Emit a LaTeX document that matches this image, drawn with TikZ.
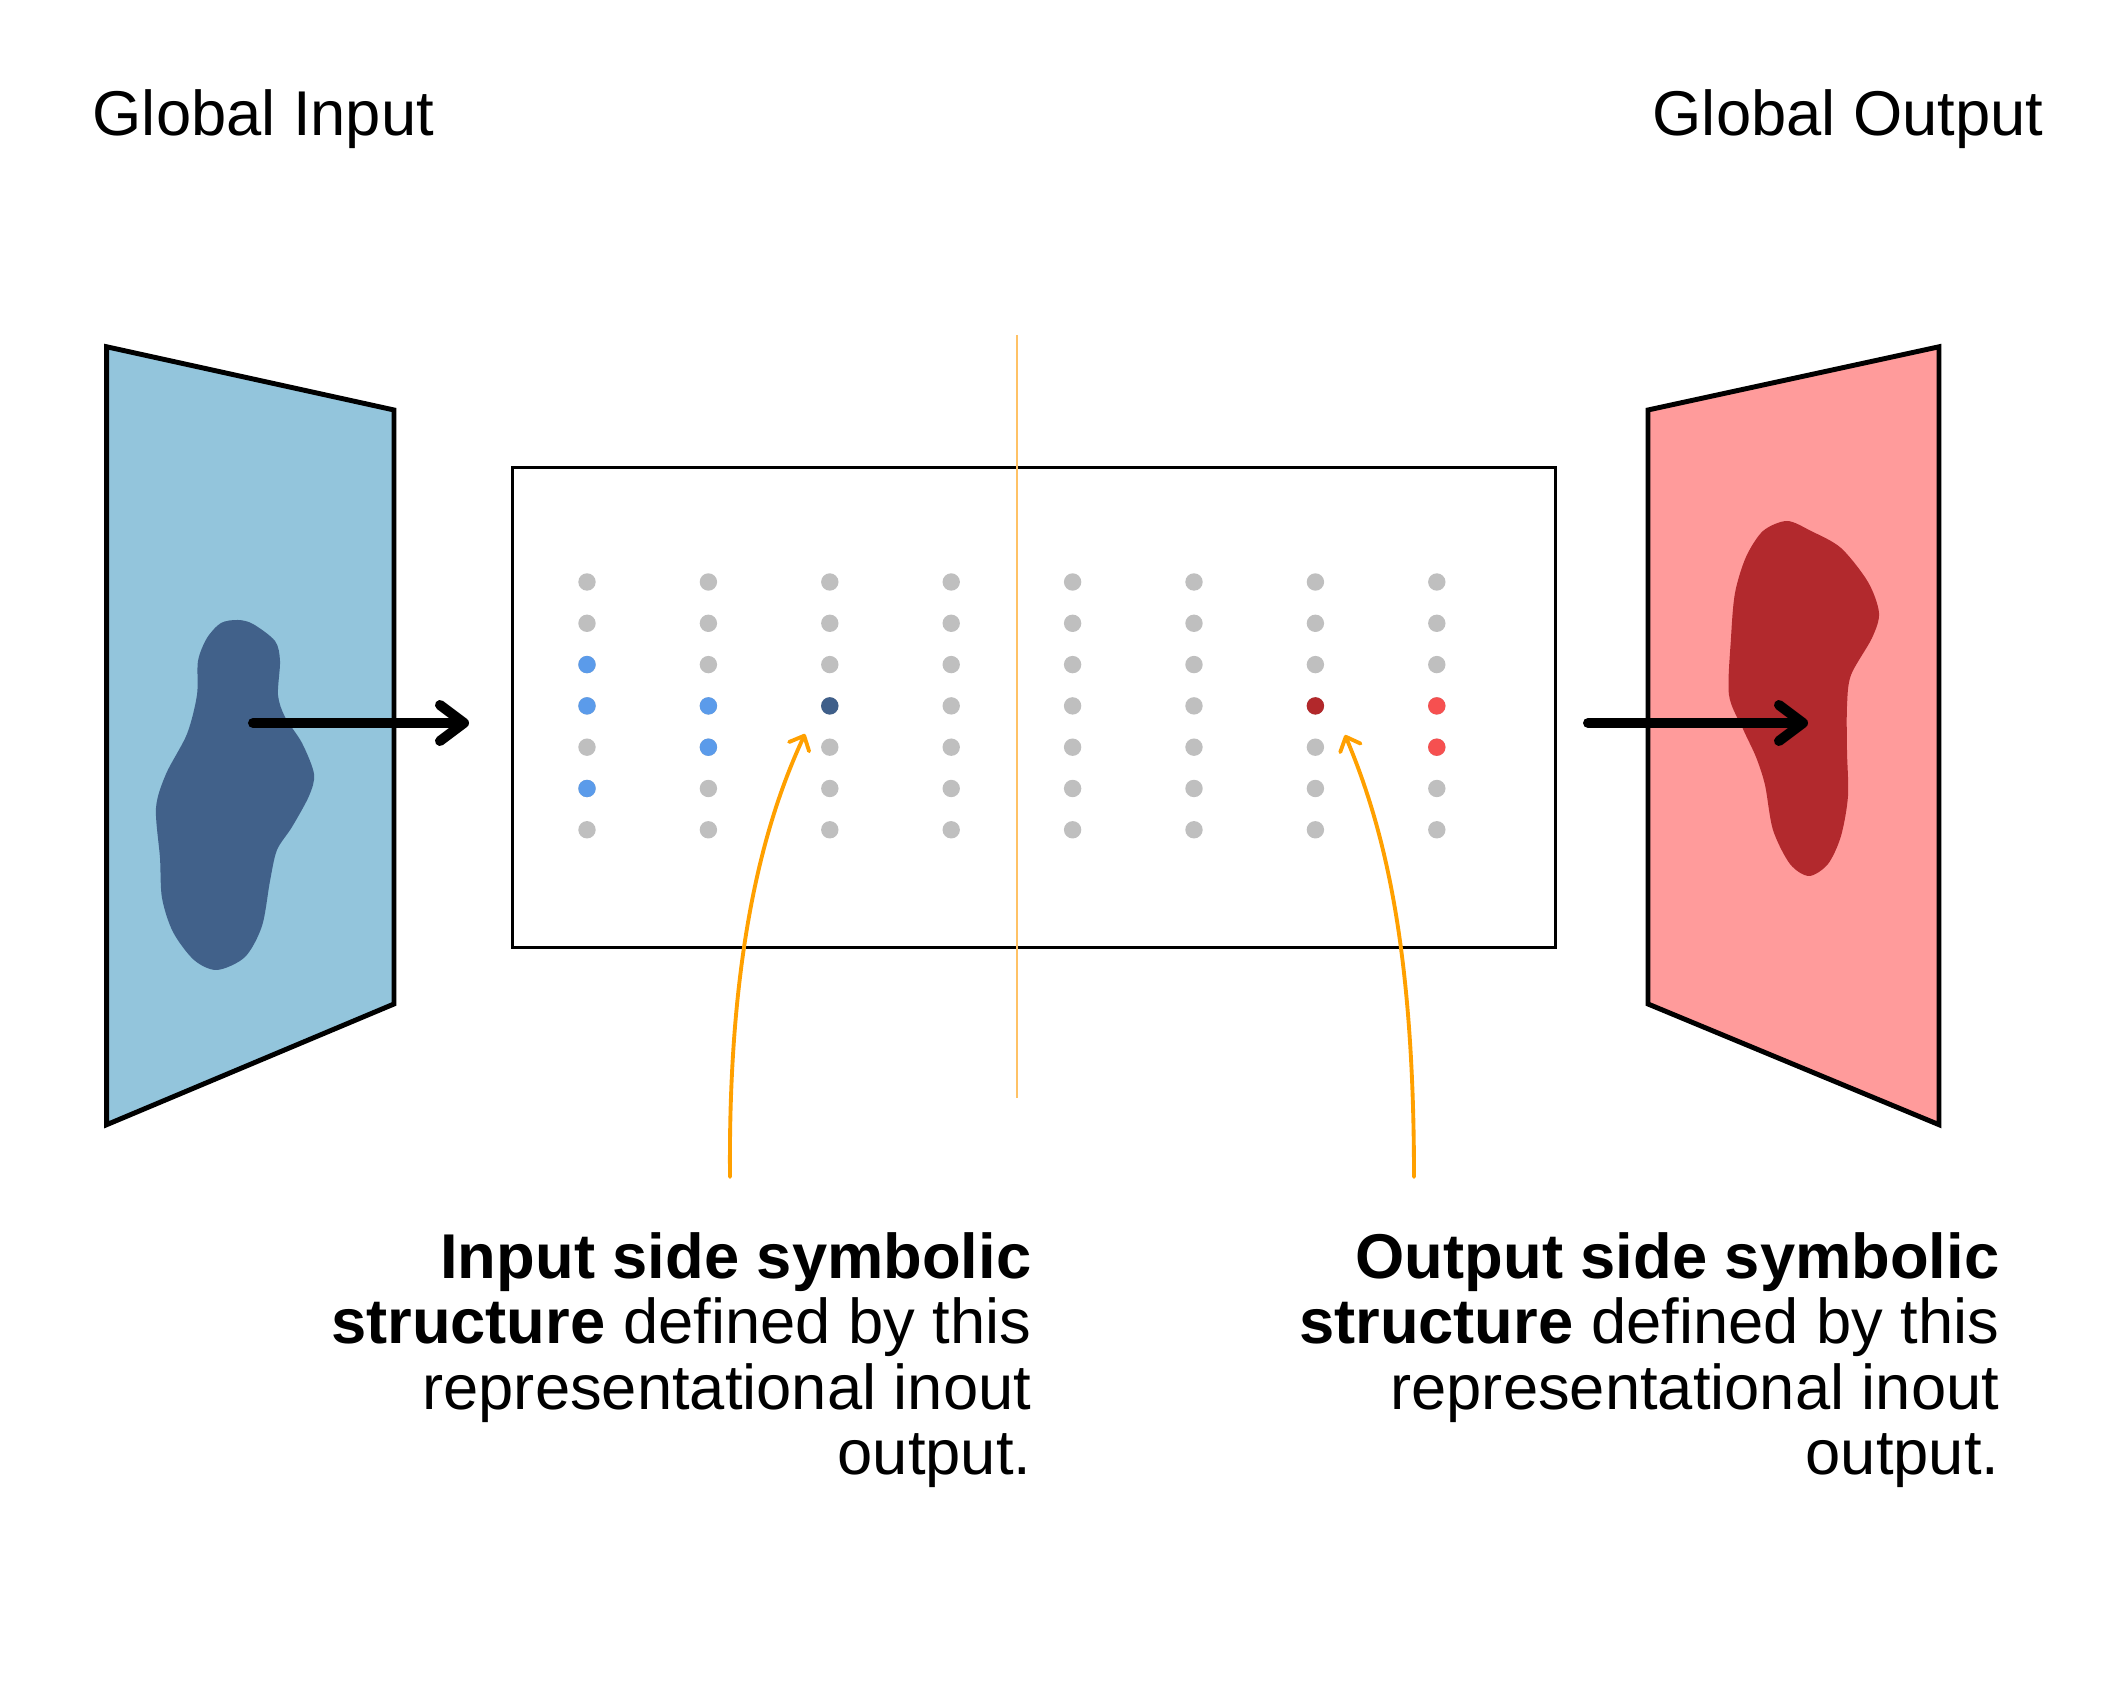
\documentclass[tikz,border=0pt]{standalone}
\usepackage{fontspec}
\setmainfont{Liberation Sans}
\usetikzlibrary{arrows.meta}

\definecolor{panelblue}{HTML}{93C5DC}
\definecolor{blobblue}{HTML}{41618A}
\definecolor{panelred}{HTML}{FF9B9B}
\definecolor{blobred}{HTML}{B2292D}
\definecolor{dotgray}{HTML}{BFBFBF}
\definecolor{dotblue}{HTML}{5B9BEA}
\definecolor{dotnavy}{HTML}{3F5F8A}
\definecolor{dotmaroon}{HTML}{B2282B}
\definecolor{dotred}{HTML}{F65050}
\definecolor{pointorange}{HTML}{FFA000}
\definecolor{splitorange}{HTML}{FFC266}

\begin{document}
\begin{tikzpicture}[x=0.01cm,y=-0.01cm,
 panel/.style={draw=black,line width=1.4pt,line join=miter},
 bigarrow/.style={line width=2.85pt,line cap=round,-{Straight Barb[length=2.4mm,width=3.6mm,round]}},
 pointer/.style={draw=pointorange,line width=1.1pt,line cap=round,-{Straight Barb[length=1.2mm,width=2.2mm,round]}},
 txt/.style={font=\fontsize{18}{18.6}\selectfont,inner sep=0pt}]
 \useasboundingbox (0,0) rectangle (2123,1686);

 \node[txt,anchor=base west] (gin) at (92,136) {Global Input};
 \node[txt,anchor=base east] (gout) at (2044,136) {Global Output};

 \draw[panel,fill=panelblue] (106.7,346.8) -- (394,410) -- (394,1004) -- (106.7,1124.7) -- cycle;
 \fill[blobblue] plot[smooth cycle] coordinates {(238,620) (253,624) (275,641) (280,661) (278,695) (285,717) (302,743) (314,774) (309,796) (292,827) (277,850) (270,881) (262,926) (245,957) (217,970) (194,960) (173,932) (162,898) (160,858) (156,808) (166,774) (187,734) (197,695) (198,661) (207,638) (221,623)};

 \draw[panel,fill=panelred] (1648,410) -- (1939,346.8) -- (1939,1124.7) -- (1648,1004) -- cycle;
 \fill[blobred] plot[smooth cycle] coordinates {(1787,521) (1811,531) (1841,548) (1868,582) (1879,613) (1872,638) (1851,675) (1847,706) (1847,751) (1848,796) (1841,836) (1828,864) (1809,876) (1790,864) (1773,830) (1765,785) (1756,757) (1743,729) (1729,695) (1731,638) (1735,593) (1746,557) (1763,531)};

 \node[draw=black,line width=0.75pt,minimum width=10.42cm,minimum height=4.8cm,inner sep=0pt] (grid) at (1034,707.5) {};
 \foreach \c in {0,...,7}
 \foreach \r in {0,...,6}
 \fill[dotgray] ({587+121.4*\c},{582+41.3*\r}) circle[radius=8.7];
 \foreach \c/\r in {0/2,0/3,0/5,1/3,1/4}
 \fill[dotblue] ({587+121.4*\c},{582+41.3*\r}) circle[radius=8.7];
 \fill[dotnavy] ({587+121.4*2},{582+41.3*3}) circle[radius=8.7];
 \fill[dotmaroon] ({587+121.4*6},{582+41.3*3}) circle[radius=8.7];
 \foreach \r in {3,4}
 \fill[dotred] ({587+121.4*7},{582+41.3*\r}) circle[radius=8.7];
 \draw[splitorange,line width=0.6pt] (1017,335) -- (1017,1098);

 \coordinate (inA) at (253,723);
 \coordinate (inB) at (469,723);
 \coordinate (outA) at (1588,723);
 \coordinate (outB) at (1808,723);
 \draw[bigarrow] (inA) -- (inB);
 \draw[bigarrow] (outA) -- (outB);

 \node[txt,align=right,anchor=north east] (insym) at (1032,1232)
 {\textbf{Input side symbolic}\\\textbf{structure} defined by this\\representational inout\\output.};
 \node[txt,align=right,anchor=north east] (outsym) at (2000,1232)
 {\textbf{Output side symbolic}\\\textbf{structure} defined by this\\representational inout\\output.};

 \coordinate (ptL0) at (730,1177);
 \coordinate (ptL1) at (805,734);
 \coordinate (ptR0) at (1414,1177);
 \coordinate (ptR1) at (1345,735);
 \draw[pointer] (ptL0) .. controls (728,950) and (765,820) .. (ptL1);
 \draw[pointer] (ptR0) .. controls (1414,950) and (1385,830) .. (ptR1);
\end{tikzpicture}
\end{document}
